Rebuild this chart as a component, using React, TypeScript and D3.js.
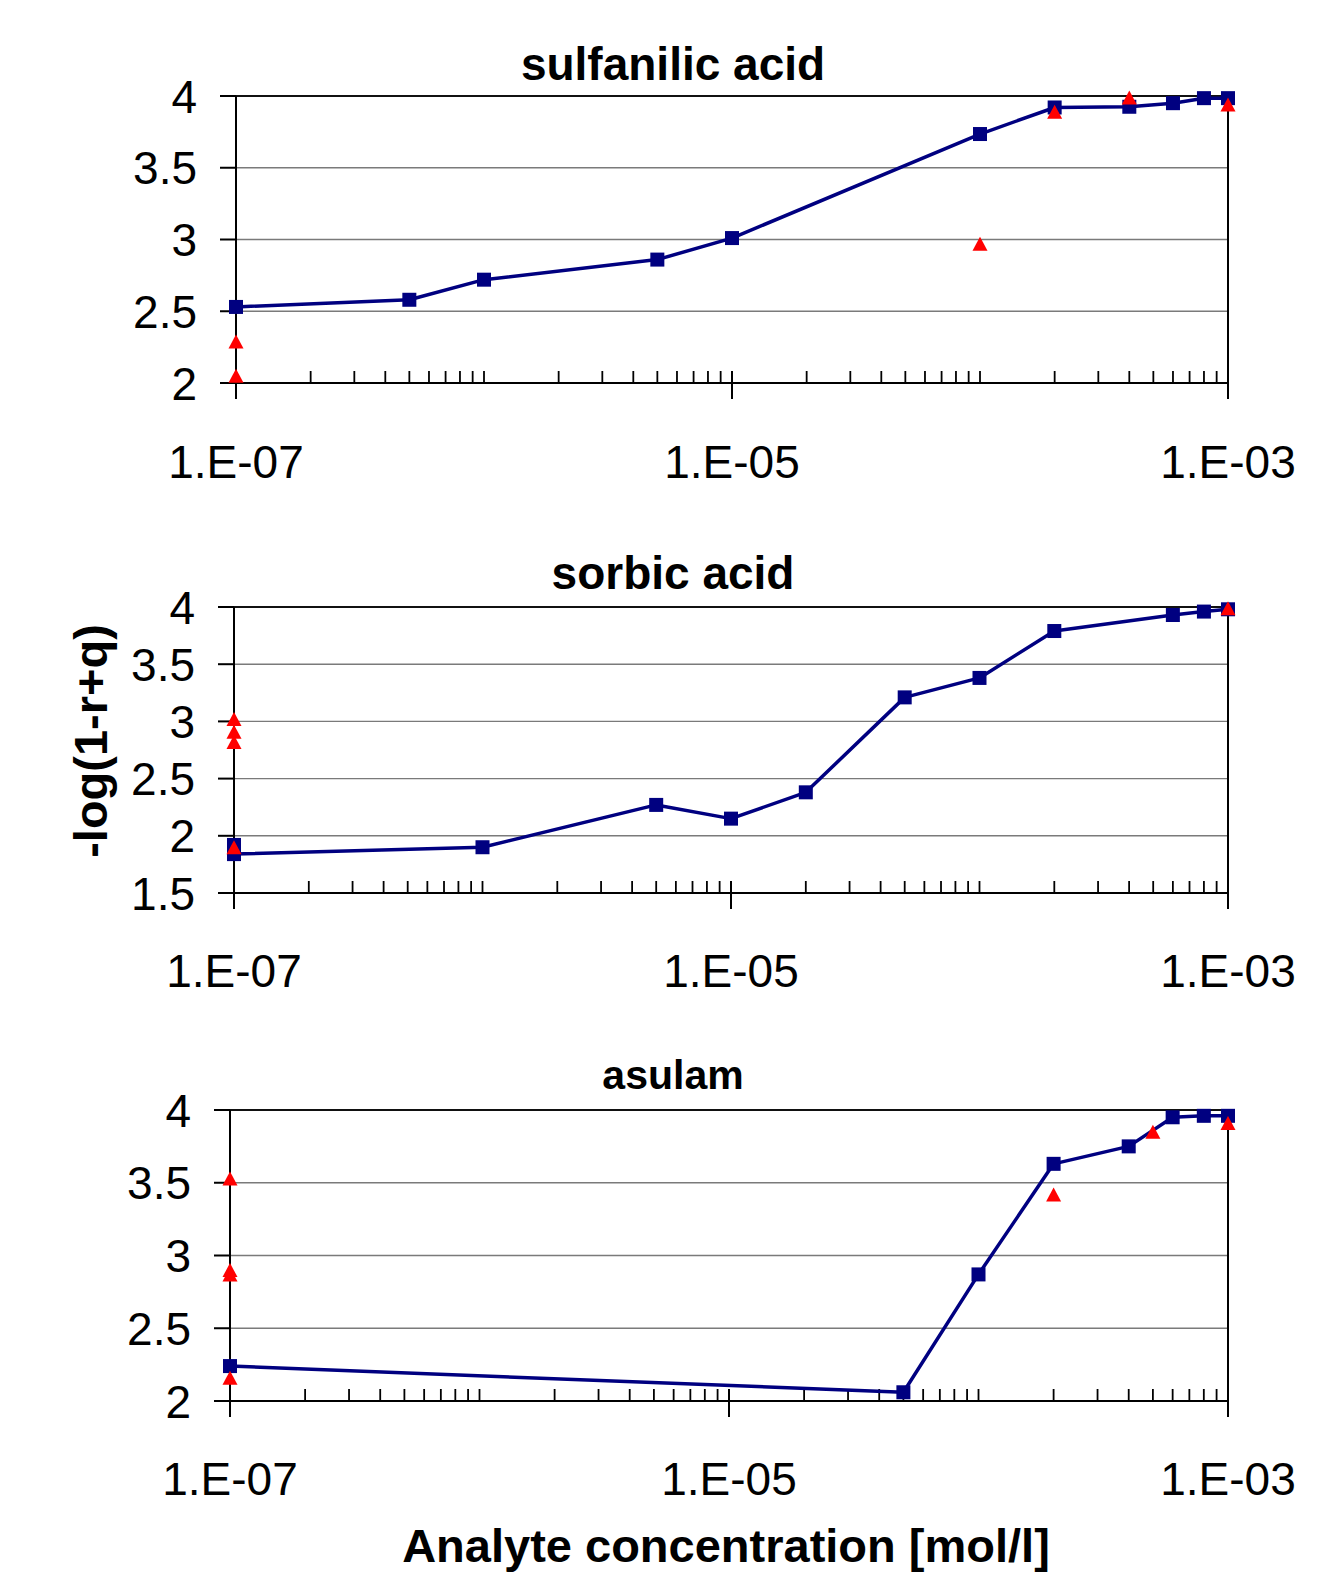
import React, { useEffect, useRef } from 'react';
import * as d3 from 'd3';

// titles and axis texts
const PANEL_TITLES = ['sulfanilic acid', 'sorbic acid', 'asulam'];
const X_LABEL_TICKS = [1e-7, 1e-5, 1e-3];
const X_LABEL_TEXT = ['1.E-07', '1.E-05', '1.E-03'];
const Y_TITLE = '-log(1-r+q)';
const X_TITLE = 'Analyte concentration [mol/l]';

// sulfanilic acid
const SULF_CONC = [1e-7, 5e-7, 1e-6, 5e-6, 1e-5, 1e-4, 2e-4, 4e-4, 6e-4, 8e-4, 1e-3];
const SULF_VAL = [2.53, 2.58, 2.72, 2.86, 3.01, 3.735, 3.92, 3.925, 3.95, 3.985, 3.985];
const SULF_PT_CONC = [1e-7, 1e-7, 1e-4, 2e-4, 4e-4, 1e-3];
const SULF_PT_VAL = [2.29, 2.05, 2.97, 3.89, 3.99, 3.94];

// sorbic acid
const SORB_CONC = [1e-7, 1e-7, 1e-6, 5e-6, 1e-5, 2e-5, 5e-5, 1e-4, 2e-4, 6e-4, 8e-4, 1e-3];
const SORB_VAL = [1.92, 1.84, 1.9, 2.27, 2.15, 2.38, 3.21, 3.38, 3.79, 3.93, 3.96, 3.98];
const SORB_PT_CONC = [1e-7, 1e-7, 1e-7, 1e-7, 1e-3];
const SORB_PT_VAL = [3.02, 2.91, 2.82, 1.9, 3.99];

// asulam
const ASUL_CONC = [1e-7, 5e-5, 1e-4, 2e-4, 4e-4, 6e-4, 8e-4, 1e-3];
const ASUL_VAL = [2.24, 2.06, 2.87, 3.63, 3.75, 3.95, 3.96, 3.96];
const ASUL_PT_CONC = [1e-7, 1e-7, 1e-7, 1e-7, 2e-4, 5e-4, 1e-3];
const ASUL_PT_VAL = [3.53, 2.9, 2.87, 2.16, 3.42, 3.85, 3.91];

const Y_DOMAINS: [number, number][] = [[2, 4], [1.5, 4], [2, 4]];

// layout of the three plot areas
const LAYOUT = [
    { left: 236, right: 1228, top: 96, bottom: 383, titleY: 80, titleSize: 46, labelY: 478 },
    { left: 234, right: 1228, top: 607, bottom: 893, titleY: 589, titleSize: 46, labelY: 987 },
    { left: 230, right: 1228, top: 1110, bottom: 1401, titleY: 1089, titleSize: 41, labelY: 1495 },
];

const FONT = '"Liberation Sans", Arial, sans-serif';
const NAVY = '#000080';

export default function App() {
    const svgRef = useRef<SVGSVGElement>(null);

    useEffect(() => {
        if (!svgRef.current) return;
        const svg = d3.select(svgRef.current);
        svg.selectAll('*').remove();

        const panels = [
            { line: SULF_CONC.map((c, i) => [c, SULF_VAL[i]]), pts: SULF_PT_CONC.map((c, i) => [c, SULF_PT_VAL[i]]) },
            { line: SORB_CONC.map((c, i) => [c, SORB_VAL[i]]), pts: SORB_PT_CONC.map((c, i) => [c, SORB_PT_VAL[i]]) },
            { line: ASUL_CONC.map((c, i) => [c, ASUL_VAL[i]]), pts: ASUL_PT_CONC.map((c, i) => [c, ASUL_PT_VAL[i]]) },
        ];

        panels.forEach((p, k) => {
            const L = LAYOUT[k];
            const x = d3.scaleLog().domain([1e-7, 1e-3]).range([L.left, L.right]);
            const y = d3.scaleLinear().domain(Y_DOMAINS[k]).range([L.bottom, L.top]);
            const g = svg.append('g');
            const yTicks = y.ticks(5);

            // gridlines
            g.selectAll('.grid')
                .data(yTicks.filter(t => t !== Y_DOMAINS[k][0] && t !== Y_DOMAINS[k][1]))
                .join('line')
                .attr('x1', L.left).attr('x2', L.right)
                .attr('y1', d => y(d)).attr('y2', d => y(d))
                .attr('stroke', '#7a7a7a')
                .attr('stroke-width', 1.4);

            // top border
            g.append('line')
                .attr('x1', L.left).attr('x2', L.right)
                .attr('y1', L.top).attr('y2', L.top)
                .attr('stroke', '#111').attr('stroke-width', 1.8);

            // y ticks + labels
            g.selectAll('.ytick')
                .data(yTicks)
                .join('line')
                .attr('x1', L.left - 16).attr('x2', L.left)
                .attr('y1', d => y(d)).attr('y2', d => y(d))
                .attr('stroke', '#000').attr('stroke-width', 2);
            g.selectAll('.ylab')
                .data(yTicks)
                .join('text')
                .attr('x', L.left - 39)
                .attr('y', d => y(d))
                .attr('dy', '0.36em')
                .attr('text-anchor', 'end')
                .style('font-family', FONT)
                .style('font-size', '46px')
                .text(d => String(d));

            // bottom axis and minor ticks
            g.append('line')
                .attr('x1', L.left - 16).attr('x2', L.right)
                .attr('y1', L.bottom).attr('y2', L.bottom)
                .attr('stroke', '#000').attr('stroke-width', 2.2);
            g.selectAll('.xminor')
                .data(x.ticks())
                .join('line')
                .attr('x1', d => x(d)).attr('x2', d => x(d))
                .attr('y1', L.bottom - 12).attr('y2', L.bottom)
                .attr('stroke', '#000').attr('stroke-width', 1.8);
            g.selectAll('.xmajor')
                .data(X_LABEL_TICKS)
                .join('line')
                .attr('x1', d => x(d)).attr('x2', d => x(d))
                .attr('y1', L.bottom - 12).attr('y2', L.bottom + 16)
                .attr('stroke', '#000').attr('stroke-width', 2);
            g.selectAll('.xlab')
                .data(X_LABEL_TICKS)
                .join('text')
                .attr('x', d => x(d))
                .attr('y', L.labelY)
                .attr('text-anchor', 'middle')
                .style('font-family', FONT)
                .style('font-size', '46px')
                .text((d, i) => X_LABEL_TEXT[i]);

            // left & right axis lines
            [L.left, L.right].forEach(xx => {
                g.append('line')
                    .attr('x1', xx).attr('x2', xx)
                    .attr('y1', L.top).attr('y2', L.bottom + 16)
                    .attr('stroke', '#000').attr('stroke-width', 2);
            });

            // title
            g.append('text')
                .attr('x', 673)
                .attr('y', L.titleY)
                .attr('text-anchor', 'middle')
                .style('font-family', FONT)
                .style('font-weight', 'bold')
                .style('font-size', `${L.titleSize}px`)
                .text(PANEL_TITLES[k]);

            // blue series
            const line = d3.line<number[]>()
                .x(d => x(d[0]))
                .y(d => y(d[1]));
            g.append('path')
                .attr('d', line(p.line))
                .attr('fill', 'none')
                .attr('stroke', NAVY)
                .attr('stroke-width', 3.5)
                .attr('stroke-linejoin', 'round');
            const sq = 14;
            g.selectAll('.sq')
                .data(p.line)
                .join('rect')
                .attr('x', d => x(d[0]) - sq / 2)
                .attr('y', d => y(d[1]) - sq / 2)
                .attr('width', sq).attr('height', sq)
                .attr('fill', NAVY);

            // red triangles
            const tw = 15, th = 14;
            g.selectAll('.tri')
                .data(p.pts)
                .join('path')
                .attr('d', `M0,${-th / 2}L${tw / 2},${th / 2}L${-tw / 2},${th / 2}Z`)
                .attr('transform', d => `translate(${x(d[0])},${y(d[1])})`)
                .attr('fill', '#ff0000');
        });

        // axis titles
        svg.append('text')
            .attr('transform', 'translate(107,741) rotate(-90)')
            .attr('text-anchor', 'middle')
            .style('font-family', FONT)
            .style('font-weight', 'bold')
            .style('font-size', '47px')
            .text(Y_TITLE);
        svg.append('text')
            .attr('x', 726)
            .attr('y', 1562)
            .attr('text-anchor', 'middle')
            .style('font-family', FONT)
            .style('font-weight', 'bold')
            .style('font-size', '47px')
            .text(X_TITLE);
    }, []);

    return (
        <svg
            ref={svgRef}
            width={1330}
            height={1573}
            style={{ position: 'absolute', left: 0, top: 0, background: '#fff' }}
        />
    );
}
